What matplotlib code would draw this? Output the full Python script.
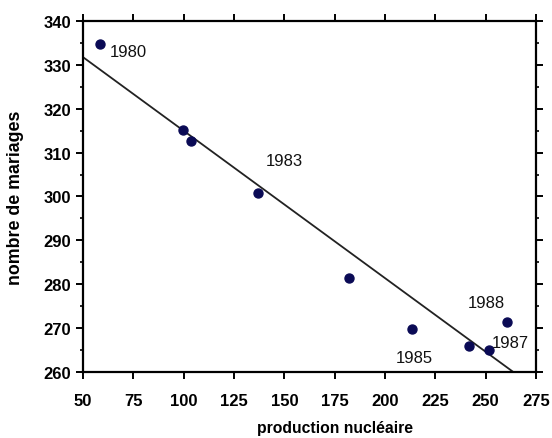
import numpy as np
import matplotlib.pyplot as plt
from matplotlib.ticker import MultipleLocator

plt.rcParams['font.family'] = ['Liberation Sans', 'DejaVu Sans']

# production nucléaire vs nombre de mariages, 1980-1988
years = [1980, 1981, 1982, 1983, 1984, 1985, 1986, 1987, 1988]
production = [58.4, 99.7, 103.7, 137.1, 182.3, 213.4, 241.9, 251.8, 260.5]
mariages = [334.8, 315.2, 312.6, 300.8, 281.4, 269.7, 265.9, 265.1, 271.4]

# years that get a label, with text offset in points
labelled = {1980: (7, -9), 1983: (5, 20), 1985: (-12, -23.5), 1987: (2, 2), 1988: (-28, 10.5)}

fig = plt.figure(figsize=(5.52, 4.39), dpi=100)
ax = fig.add_axes([0.1504, 0.1503, 0.8206, 0.7997])

ax.scatter(production, mariages, s=42, color='#0a0a55', zorder=3)

slope, intercept = np.polyfit(production, mariages, 1)
xs = np.array([50, 275])
ax.plot(xs, intercept + slope * xs, color='#222222', lw=1.3)

for yr, x, y in zip(years, production, mariages):
    if yr in labelled:
        ax.annotate(str(yr), (x, y), xytext=labelled[yr], textcoords='offset points',
                    fontsize=12, color='#111111')

ax.set_xlim(50, 275)
ax.set_ylim(260, 340)
ax.xaxis.set_major_locator(MultipleLocator(25))
ax.yaxis.set_major_locator(MultipleLocator(10))
ax.yaxis.set_minor_locator(MultipleLocator(5))

for s in ax.spines.values():
    s.set_linewidth(1.6)
ax.tick_params(axis='both', which='major', direction='out', length=5, width=1.4,
               labelsize=12, top=True, right=True, labeltop=False, labelright=False)
ax.tick_params(axis='x', which='major', pad=10)
ax.tick_params(axis='y', which='minor', direction='out', length=2.5, width=1.2, right=True)
for lab in ax.get_xticklabels() + ax.get_yticklabels():
    lab.set_fontweight('bold')

ax.set_xlabel('production nucléaire', fontsize=11.3, fontweight='bold', va='center')
ax.set_ylabel('nombre de mariages', fontsize=12.8, fontweight='bold', va='center')
ax.xaxis.set_label_coords(0.556, -0.157)
ax.yaxis.set_label_coords(-0.150, 0.5)

plt.savefig('out.png', dpi=100)
